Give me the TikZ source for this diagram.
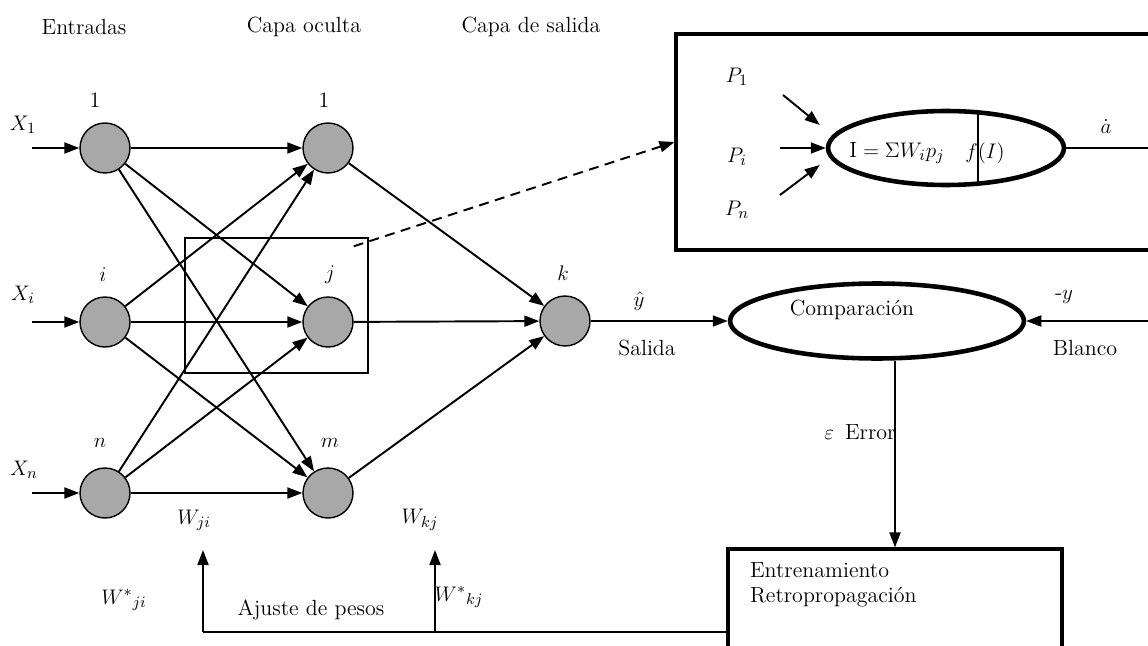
\documentclass[tikz,border=0pt]{standalone}
\usepackage{amsmath}
\usepackage{fontspec}
\usepackage{tikz}
\usetikzlibrary{positioning,arrows.meta,calc,shapes.geometric}
\definecolor{cellgray}{RGB}{168,168,168}
\tikzset{
  >={Triangle[length=3mm,width=2.2mm]},
  txt/.style={font=\fontsize{12.5}{14.2}\selectfont,inner sep=1pt},
  cell/.style={circle,draw=black,line width=0.8pt,fill=cellgray,
    minimum size=10mm,inner sep=0pt},
  wire/.style={->,line width=1.1pt},
  plainwire/.style={line width=1.1pt},
  dashwire/.style={->,dash pattern=on 2mm off 1.3mm,line width=1.1pt},
  bigell/.style={ellipse,draw,line width=2.6pt,inner sep=0pt},
  frame/.style={draw,line width=1.8pt,inner sep=0pt},
  thinframe/.style={draw,line width=0.8pt,inner sep=0pt},
}

\begin{document}
\begin{tikzpicture}[x=0.02cm,y=-0.02cm]
  \useasboundingbox (0,0) rectangle (1148,645);
  \node[txt] (tin) at (84,27) {Entradas};
  \node[txt] (thid) at (304,27) {Capa oculta};
  \node[txt] (tout) at (531,27) {Capa de salida};

  \node[cell] (in1) at (105,148) {};
  \node[cell] (ini) at (105,322) {};
  \node[cell] (inn) at (105,493) {};
  \node[cell] (h1) at (328,148) {};
  \node[cell] (hj) at (328,322) {};
  \node[cell] (hm) at (328,493) {};
  \node[cell] (k) at (565,321) {};

  \node[txt] (l1) at (95,100) {1};
  \node[txt] (li) at (103,275) {$i$};
  \node[txt] (ln) at (100,443) {$n$};
  \node[txt] (lh1) at (324,100) {1};
  \node[txt] (lj) at (330,275) {$j$};
  \node[txt] (lm) at (330,443) {$m$};
  \node[txt] (lk) at (563,273) {$k$};
  \node[txt] (lx1) at (23,125) {$X_1$};
  \node[txt] (lxi) at (23,295) {$X_i$};
  \node[txt] (lxn) at (24,470) {$X_n$};

  \coordinate (x1s) at (32,148);
  \coordinate (xis) at (32,322);
  \coordinate (xns) at (32,493);
  \draw[wire] (x1s) -- (in1);
  \draw[wire] (xis) -- (ini);
  \draw[wire] (xns) -- (inn);
  \foreach \s in {in1,ini,inn}
    \foreach \t in {h1,hj,hm}
      \draw[wire] (\s) -- (\t);
  \foreach \s in {h1,hj,hm}
    \draw[wire] (\s) -- (k);

  \node[thinframe,minimum width=3.66cm,minimum height=2.7cm] (jbox) at (276.5,305.5) {};

  \node[frame,minimum width=9.88cm,minimum height=4.32cm] (neubox) at (923,142) {};
  \draw[dashwire] ($(jbox.north east)+(-15,9)$) -- (neubox.west);
  \node[bigell,minimum width=4.72cm,minimum height=1.48cm,
    path picture={\draw[line width=1pt]
      ([xshift=0.64cm]path picture bounding box.north) --
      ([xshift=0.64cm]path picture bounding box.south);}] (neu) at (946,148) {};
  \node[txt] (sum) at (897,153) {$\mathrm{I} = \Sigma W_i p_j$};
  \node[txt] (act) at (985,153) {$f(I)$};
  \node[txt] (p1) at (737,77) {$P_1$};
  \node[txt] (pi) at (737,157) {$P_i$};
  \node[txt] (pn) at (737,210) {$P_n$};
  \coordinate (p1s) at (783,95);
  \coordinate (pis) at (780,148);
  \coordinate (pns) at (780,195);
  \draw[wire] (p1s) -- ($(neu.west)+(-6,-23)$);
  \draw[wire] (pis) -- (neu.west);
  \draw[wire] (pns) -- ($(neu.west)+(-6,17)$);
  \coordinate (aout) at (1160,148);
  \draw[plainwire] (neu.east) -- (aout);
  \node[txt] (adot) at (1106,127) {$\dot{a}$};

  \node[bigell,minimum width=5.88cm,minimum height=1.5cm] (comp) at (877,321) {};
  \node[txt] (comptxt) at (852,310) {Comparación};
  \draw[wire] (k) -- (comp.west);
  \coordinate (tgt) at (1160,321);
  \draw[wire] (tgt) -- (comp.east);
  \node[txt] (yhat) at (639,301) {$\hat{y}$};
  \node[txt] (sal) at (647,348) {Salida};
  \node[txt] (ytgt) at (1064,297) {-$y$};
  \node[txt] (blanco) at (1085,348) {Blanco};

  \node[frame,minimum width=6.68cm,minimum height=2.22cm] (train) at (895,604.5) {};
  \node[txt,align=left,anchor=west] (traintxt) at (748,585) {Entrenamiento\\Retropropagación};
  \draw[wire] (train.north |- comp.south) -- (train.north);
  \node[txt] (err) at (860,432) {$\varepsilon$\enspace Error};

  \coordinate (fbL) at (203,632);
  \coordinate (fbM) at (435,632);
  \coordinate (upji) at (203,550);
  \coordinate (upkj) at (435,550);
  \draw[plainwire] (train.west |- fbL) -- (fbL);
  \draw[wire] (fbL) -- (upji);
  \draw[wire] (fbM) -- (upkj);
  \node[txt] (wji) at (194,520) {$W_{ji}$};
  \node[txt] (wkj) at (420,520) {$W_{kj}$};
  \node[txt] (wsji) at (124,600) {$W^{*}{}_{ji}$};
  \node[txt] (wskj) at (459,597) {$W^{*}{}_{kj}$};
  \node[txt] (ajuste) at (311,610) {Ajuste de pesos};
\end{tikzpicture}
\end{document}
